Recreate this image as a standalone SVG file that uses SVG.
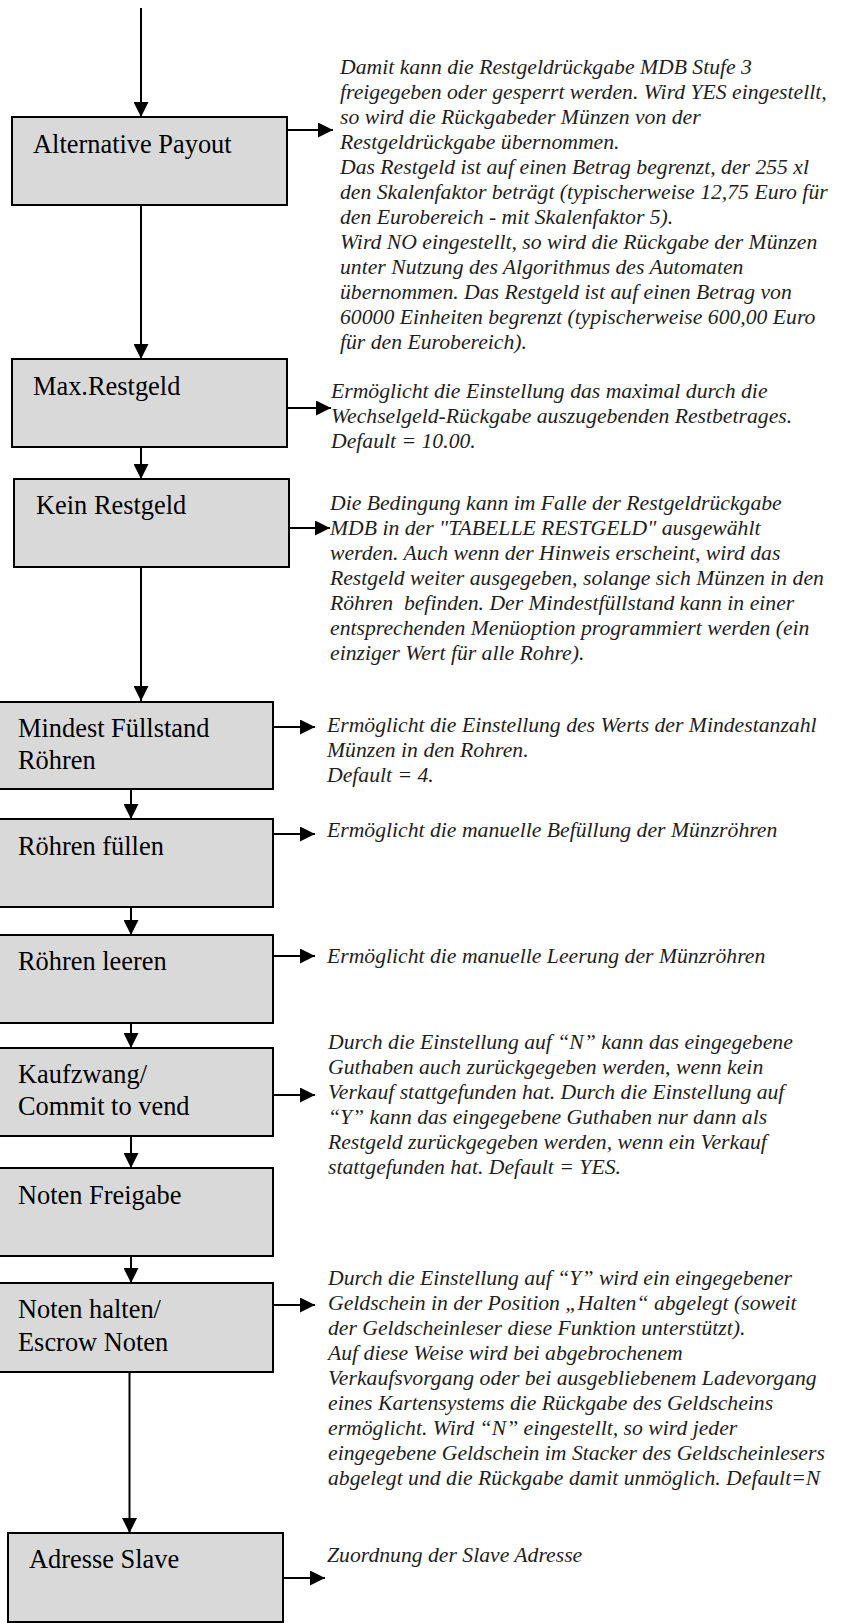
<svg xmlns="http://www.w3.org/2000/svg" width="845" height="1623" viewBox="0 0 845 1623">
<style>
.box{fill:#d9d9d9;stroke:#000;stroke-width:2}
.lbl{font-family:"Liberation Serif","Times New Roman",serif;font-size:26.4px;fill:#000}
.desc{font-family:"Liberation Serif","Times New Roman",serif;font-size:21.7px;font-style:italic;fill:#1e1e1e;white-space:pre}
.con{stroke:#000;stroke-width:2;fill:none;marker-end:url(#ah)}
</style>
<defs>
<marker id="ah" markerUnits="userSpaceOnUse" markerWidth="15" markerHeight="15" refX="15" refY="7.5" orient="auto">
<path d="M0,0 L15,7.5 L0,15 z" fill="#000"/>
</marker>
</defs>
<rect width="845" height="1623" fill="#fff"/>

<g id="connectors">
<line class="con" x1="141" y1="8" x2="141" y2="117"/>
<line class="con" x1="141" y1="205" x2="141" y2="359"/>
<line class="con" x1="141" y1="447" x2="141" y2="479"/>
<line class="con" x1="141" y1="567" x2="141" y2="701"/>
<line class="con" x1="131" y1="788" x2="131" y2="819"/>
<line class="con" x1="131" y1="906" x2="131" y2="935"/>
<line class="con" x1="131" y1="1022" x2="131" y2="1048"/>
<line class="con" x1="131" y1="1135" x2="131" y2="1168"/>
<line class="con" x1="131" y1="1255" x2="131" y2="1283"/>
<line class="con" x1="129.5" y1="1370" x2="129.5" y2="1533"/>
<line class="con" x1="287" y1="130" x2="333" y2="130"/>
<line class="con" x1="287" y1="408" x2="331" y2="408"/>
<line class="con" x1="289" y1="528" x2="330" y2="528"/>
<line class="con" x1="273" y1="727" x2="315" y2="727"/>
<line class="con" x1="273" y1="834" x2="315" y2="834"/>
<line class="con" x1="273" y1="956" x2="315" y2="956"/>
<line class="con" x1="273" y1="1095" x2="315" y2="1095"/>
<line class="con" x1="273" y1="1305" x2="315" y2="1305"/>
<line class="con" x1="283" y1="1578" x2="325" y2="1578"/>
</g>

<g id="n1">
<rect class="box" x="12" y="117" width="275" height="88"/>
<text class="lbl" x="33" y="153">Alternative Payout</text>
</g>
<g id="n2">
<rect class="box" x="12" y="359" width="275" height="88"/>
<text class="lbl" x="33" y="395">Max.Restgeld</text>
</g>
<g id="n3">
<rect class="box" x="14" y="479" width="275" height="88"/>
<text class="lbl" x="36" y="514">Kein Restgeld</text>
</g>
<g id="n4">
<rect class="box" x="-1" y="702" width="274" height="87"/>
<text class="lbl" x="18" y="737">Mindest Füllstand</text>
<text class="lbl" x="18" y="769">Röhren</text>
</g>
<g id="n5">
<rect class="box" x="-1" y="819" width="274" height="88"/>
<text class="lbl" x="18" y="855">Röhren füllen</text>
</g>
<g id="n6">
<rect class="box" x="-1" y="935" width="274" height="88"/>
<text class="lbl" x="18" y="970">Röhren leeren</text>
</g>
<g id="n7">
<rect class="box" x="-1" y="1048" width="274" height="88"/>
<text class="lbl" x="18" y="1083">Kaufzwang/</text>
<text class="lbl" x="18" y="1115">Commit to vend</text>
</g>
<g id="n8">
<rect class="box" x="-1" y="1168" width="274" height="88"/>
<text class="lbl" x="18" y="1204">Noten Freigabe</text>
</g>
<g id="n9">
<rect class="box" x="-1" y="1283" width="274" height="89"/>
<text class="lbl" x="18" y="1318">Noten halten/</text>
<text class="lbl" x="18" y="1351">Escrow Noten</text>
</g>
<g id="n10">
<rect class="box" x="8" y="1533" width="275" height="89"/>
<text class="lbl" x="29" y="1568">Adresse Slave</text>
</g>

<g id="d1">
<text class="desc">
<tspan x="340" y="74">Damit kann die Restgeldrückgabe MDB Stufe 3</tspan>
<tspan x="340" y="99">freigegeben oder gesperrt werden. Wird YES eingestellt,</tspan>
<tspan x="340" y="124">so wird die Rückgabeder Münzen von der</tspan>
<tspan x="340" y="149">Restgeldrückgabe übernommen.</tspan>
<tspan x="340" y="174">Das Restgeld ist auf einen Betrag begrenzt, der 255 xl</tspan>
<tspan x="340" y="199">den Skalenfaktor beträgt (typischerweise 12,75 Euro für</tspan>
<tspan x="340" y="224">den Eurobereich - mit Skalenfaktor 5).</tspan>
<tspan x="340" y="249">Wird NO eingestellt, so wird die Rückgabe der Münzen</tspan>
<tspan x="340" y="274">unter Nutzung des Algorithmus des Automaten</tspan>
<tspan x="340" y="299">übernommen. Das Restgeld ist auf einen Betrag von</tspan>
<tspan x="340" y="324">60000 Einheiten begrenzt (typischerweise 600,00 Euro</tspan>
<tspan x="340" y="349">für den Eurobereich).</tspan>
</text>
</g>
<g id="d2">
<text class="desc">
<tspan x="331" y="398">Ermöglicht die Einstellung das maximal durch die</tspan>
<tspan x="331" y="423">Wechselgeld-Rückgabe auszugebenden Restbetrages.</tspan>
<tspan x="331" y="448">Default = 10.00.</tspan>
</text>
</g>
<g id="d3">
<text class="desc">
<tspan x="330" y="510">Die Bedingung kann im Falle der Restgeldrückgabe</tspan>
<tspan x="330" y="535">MDB in der "TABELLE RESTGELD" ausgewählt</tspan>
<tspan x="330" y="560">werden. Auch wenn der Hinweis erscheint, wird das</tspan>
<tspan x="330" y="585">Restgeld weiter ausgegeben, solange sich Münzen in den</tspan>
<tspan x="330" y="610">Röhren  befinden. Der Mindestfüllstand kann in einer</tspan>
<tspan x="330" y="635">entsprechenden Menüoption programmiert werden (ein</tspan>
<tspan x="330" y="660">einziger Wert für alle Rohre).</tspan>
</text>
</g>
<g id="d4">
<text class="desc">
<tspan x="327" y="732">Ermöglicht die Einstellung des Werts der Mindestanzahl</tspan>
<tspan x="327" y="757">Münzen in den Rohren.</tspan>
<tspan x="327" y="782">Default = 4.</tspan>
</text>
</g>
<g id="d5">
<text class="desc" x="327" y="837">Ermöglicht die manuelle Befüllung der Münzröhren</text>
</g>
<g id="d6">
<text class="desc" x="327" y="963">Ermöglicht die manuelle Leerung der Münzröhren</text>
</g>
<g id="d7">
<text class="desc">
<tspan x="328" y="1049">Durch die Einstellung auf “N” kann das eingegebene</tspan>
<tspan x="328" y="1074">Guthaben auch zurückgegeben werden, wenn kein</tspan>
<tspan x="328" y="1099">Verkauf stattgefunden hat. Durch die Einstellung auf</tspan>
<tspan x="328" y="1124">“Y” kann das eingegebene Guthaben nur dann als</tspan>
<tspan x="328" y="1149">Restgeld zurückgegeben werden, wenn ein Verkauf</tspan>
<tspan x="328" y="1174">stattgefunden hat. Default = YES.</tspan>
</text>
</g>
<g id="d8">
<text class="desc">
<tspan x="328" y="1285">Durch die Einstellung auf “Y” wird ein eingegebener</tspan>
<tspan x="328" y="1310">Geldschein in der Position „Halten“ abgelegt (soweit</tspan>
<tspan x="328" y="1335">der Geldscheinleser diese Funktion unterstützt).</tspan>
<tspan x="328" y="1360">Auf diese Weise wird bei abgebrochenem</tspan>
<tspan x="328" y="1385">Verkaufsvorgang oder bei ausgebliebenem Ladevorgang</tspan>
<tspan x="328" y="1410">eines Kartensystems die Rückgabe des Geldscheins</tspan>
<tspan x="328" y="1435">ermöglicht. Wird “N” eingestellt, so wird jeder</tspan>
<tspan x="328" y="1460">eingegebene Geldschein im Stacker des Geldscheinlesers</tspan>
<tspan x="328" y="1485">abgelegt und die Rückgabe damit unmöglich. Default=N</tspan>
</text>
</g>
<g id="d9">
<text class="desc" x="327" y="1562">Zuordnung der Slave Adresse</text>
</g>
</svg>
